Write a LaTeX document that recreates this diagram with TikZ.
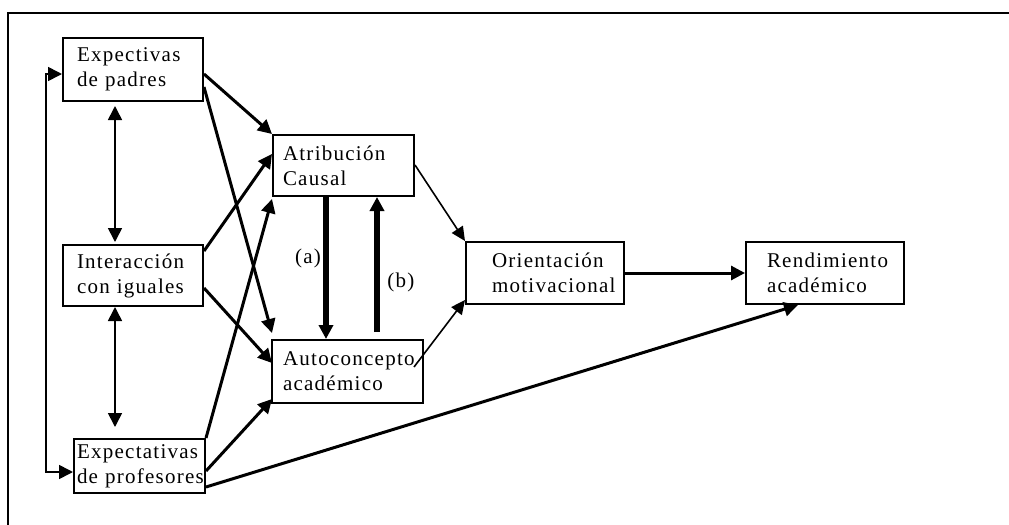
\documentclass[tikz,border=0pt]{standalone}
\usepackage{fontspec}
\setmainfont{Liberation Serif}[LetterSpace=6]
\usepackage{tikz}
\usetikzlibrary{arrows.meta,calc}
\tikzset{
  caja/.style  ={draw=black, line width=1pt, align=left, inner ysep=2pt,
                 font=\fontsize{10.5}{12.5}\selectfont},
  fg/.style    ={-{Triangle[length=7pt,width=7pt]}, line width=1.5pt},
  fn/.style    ={-{Triangle[length=7pt,width=6.5pt]}, line width=0.8pt},
  fd/.style    ={{Triangle[length=7pt,width=7pt]}-{Triangle[length=7pt,width=7pt]},
                 line width=0.8pt},
  fmg/.style   ={-{Triangle[length=7pt,width=7pt]}, line width=2.6pt},
  etq/.style   ={font=\fontsize{10.5}{12.5}\selectfont, inner sep=1pt},
  marco/.style ={line width=1pt}
}

\begin{document}
\begin{tikzpicture}[x=0.5pt,y=-0.5pt]
\useasboundingbox (0,0) rectangle (1009,525);
\draw[marco] (8,525) |- (1009,13);

\node[caja, text width=56pt, inner xsep=7pt, minimum height=31.5pt]
  (padres) at (133,69.5) {Expectivas\\de~padres};
\node[caja, text width=56pt, inner xsep=7pt, minimum height=30.5pt]
  (iguales) at (133,275.5) {Interacción\\con~iguales};
\node[caja, text width=62.5pt, inner xsep=1.5pt, minimum height=27pt]
  (profesores) at (139.5,466) {Expectativas\\de~profesores};
\node[caja, text width=60.5pt, inner xsep=5pt, minimum height=30.5pt]
  (atrib) at (343.5,165.5) {Atribución\\Causal};
\node[caja, text width=64.5pt, inner xsep=5.5pt, minimum height=31.5pt]
  (auto) at (347.5,371.5) {Autoconcepto\\académico};
\node[caja, text width=53pt, inner xsep=13pt, minimum height=31pt]
  (orient) at (545,273) {Orientación\\motivacional};
\node[caja, text width=58pt, inner xsep=10.5pt, minimum height=31pt]
  (rend) at (825,273) {Rendimiento\\académico};

% retroalimentacion a la izquierda
\draw[fd] ($(padres.north west)+(0,37)$) -- ++(-16,0)
  |- ($(profesores.north west)+(0,34)$);
\draw[fd] ($(padres.south west)+(53,4)$) -- ($(iguales.north west)+(53,-2)$);
\draw[fd] ($(iguales.south west)+(53,0)$) -- ($(profesores.north west)+(42,-11)$);

% hacia atribucion y autoconcepto
\draw[fg] ($(padres.north east)+(0,37)$) -- (atrib.north west);
\draw[fg] ($(padres.north east)+(0,50)$) -- ($(auto.north west)+(1,-6)$);
\draw[fg] ($(iguales.north east)+(0,7)$) -- ($(atrib.south west)+(0,-43)$);
\draw[fg] ($(iguales.north east)+(0,44)$) -- ($(auto.north west)+(1,24)$);
\draw[fg] (profesores.north east) -- ($(atrib.south west)+(0,2)$);
\draw[fg] ($(profesores.north east)+(0,33)$) -- ($(auto.south west)+(1,-5)$);
\draw[fg] ($(profesores.north east)+(0,49)$) -- ($(rend.south)+(-27,0)$);

% relacion reciproca
\draw[fmg] ($(atrib.south west)+(54,0)$) -- ($(auto.north west)+(55,0)$);
\draw[fmg] ($(auto.north west)+(106,-7)$) -- ($(atrib.south west)+(105,0)$);
\node[etq] (a) at (308,258) {(a)};
\node[etq] (b) at (401,282) {(b)};

\draw[fn] ($(atrib.north east)+(0,31)$) -- (orient.north west);
\draw[fn] ($(auto.north east)+(-10,28)$) -- ($(orient.south west)+(0,-5)$);
\draw[fg] (orient) -- (rend);
\end{tikzpicture}
\end{document}
